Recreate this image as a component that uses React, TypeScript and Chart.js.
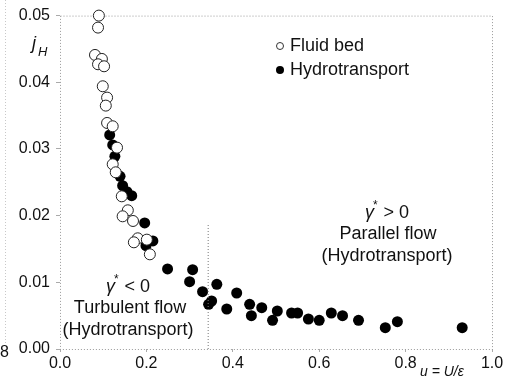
import React, { useEffect, useRef } from "react";
import { Chart, registerables } from "chart.js";

Chart.register(...registerables);

const fluidX = [0.090, 0.088, 0.081, 0.097, 0.088, 0.102, 0.099, 0.109, 0.106, 0.109, 0.122, 0.132, 0.122, 0.129, 0.143, 0.157, 0.145, 0.169, 0.180, 0.171, 0.201, 0.208];
const fluidY = [0.0500, 0.0482, 0.0441, 0.0435, 0.0427, 0.0424, 0.0394, 0.0377, 0.0365, 0.0339, 0.0334, 0.0302, 0.0277, 0.0265, 0.0229, 0.0208, 0.0199, 0.0192, 0.0166, 0.0160, 0.0164, 0.0142];

const hydroX = [0.115, 0.122, 0.127, 0.139, 0.145, 0.155, 0.166, 0.196, 0.215, 0.199, 0.249, 0.307, 0.300, 0.330, 0.363, 0.351, 0.344, 0.409, 0.386, 0.439, 0.443, 0.467, 0.492, 0.503, 0.536, 0.550, 0.575, 0.600, 0.628, 0.654, 0.691, 0.753, 0.781, 0.931];
const hydroY = [0.0321, 0.0306, 0.0289, 0.0259, 0.0245, 0.0236, 0.0230, 0.0189, 0.0162, 0.0155, 0.0120, 0.0119, 0.0101, 0.0086, 0.0097, 0.0072, 0.0067, 0.0084, 0.0060, 0.0067, 0.0050, 0.0062, 0.0043, 0.0057, 0.0054, 0.0054, 0.0045, 0.0043, 0.0054, 0.0050, 0.0043, 0.0032, 0.0041, 0.0032];

const dividerX = [0.343, 0.343];
const dividerY = [0.0, 0.0189];

const xTicks = [0.0, 0.2, 0.4, 0.6, 0.8, 1.0];
const yTicks = [0.0, 0.01, 0.02, 0.03, 0.04, 0.05];

const FONT = "'Liberation Sans', Arial, Helvetica, sans-serif";

function drawGamma(ctx: CanvasRenderingContext2D, cx: number, cy: number, rest: string) {
  ctx.save();
  ctx.fillStyle = "#111";
  ctx.textBaseline = "middle";
  ctx.textAlign = "left";
  ctx.font = `italic 18px ${FONT}`;
  const gW = ctx.measureText("γ").width;
  ctx.font = `12px ${FONT}`;
  const sW = ctx.measureText("*").width;
  ctx.font = `18px ${FONT}`;
  const rW = ctx.measureText(rest).width;
  const total = gW + sW + rW;
  let x = cx - total / 2;
  ctx.font = `italic 18px ${FONT}`;
  ctx.fillText("γ", x, cy);
  x += gW - 1;
  ctx.font = `12px ${FONT}`;
  ctx.fillText("*", x, cy - 7);
  x += sW + 1;
  ctx.font = `18px ${FONT}`;
  ctx.fillText(rest, x, cy);
  ctx.restore();
}

const decorPlugin = {
  id: "decor",
  beforeDatasetsDraw(chart: any) {
    const { ctx, chartArea } = chart;
    ctx.save();
    ctx.strokeStyle = "#9a9a9a";
    ctx.lineWidth = 1;
    ctx.setLineDash([1, 2]);
    ctx.strokeRect(chartArea.left + 0.5, chartArea.top + 0.5, chartArea.right - chartArea.left, chartArea.bottom - chartArea.top);
    ctx.strokeStyle = "#c8c8c8";
    ctx.beginPath();
    ctx.moveTo(5.5, 0);
    ctx.lineTo(5.5, 345);
    ctx.stroke();
    ctx.restore();
  },
  afterDatasetsDraw(chart: any) {
    const { ctx } = chart;
    ctx.save();
    ctx.fillStyle = "#111";
    ctx.textBaseline = "middle";

    // legend
    ctx.beginPath();
    ctx.arc(280, 46, 3.5, 0, Math.PI * 2);
    ctx.fillStyle = "#fff";
    ctx.fill();
    ctx.strokeStyle = "#333";
    ctx.lineWidth = 1;
    ctx.stroke();
    ctx.beginPath();
    ctx.arc(280, 70, 4, 0, Math.PI * 2);
    ctx.fillStyle = "#000";
    ctx.fill();
    ctx.fillStyle = "#111";
    ctx.font = `18px ${FONT}`;
    ctx.textAlign = "left";
    ctx.fillText("Fluid bed", 290, 46);
    ctx.fillText("Hydrotransport", 290, 70);

    // annotations
    ctx.textAlign = "center";
    ctx.fillText("Turbulent flow", 130, 308);
    ctx.fillText("(Hydrotransport)", 128, 330);
    ctx.fillText("Parallel flow", 388, 234);
    ctx.fillText("(Hydrotransport)", 387, 256);
    drawGamma(ctx, 128, 287, " < 0");
    drawGamma(ctx, 387, 213, " > 0");

    // axis titles
    ctx.textAlign = "left";
    ctx.font = `italic 18px ${FONT}`;
    ctx.fillText("j", 32, 44);
    ctx.font = `italic 13px ${FONT}`;
    ctx.fillText("H", 38, 52);
    ctx.font = `italic 14px ${FONT}`;
    ctx.fillText("u = U/ε", 420, 372);
    ctx.font = `16px ${FONT}`;
    ctx.fillText("8", 0, 353);
    ctx.restore();
  },
};

export default function App() {
  const ref = useRef<HTMLCanvasElement | null>(null);
  useEffect(() => {
    if (!ref.current) return;
    const chart = new Chart(ref.current, {
      type: "scatter",
      data: {
        datasets: [
          {
            label: "divider",
            type: "line",
            data: dividerX.map((x, i) => ({ x, y: dividerY[i] })),
            borderColor: "#777",
            borderWidth: 1,
            borderDash: [1, 2],
            pointRadius: 0,
            showLine: true,
            fill: false,
          } as any,
          {
            label: "Fluid bed",
            data: fluidX.map((x, i) => ({ x, y: fluidY[i] })),
            backgroundColor: "#fff",
            borderColor: "#222",
            borderWidth: 1,
            pointRadius: 5.5,
            clip: false,
          } as any,
          {
            label: "Hydrotransport",
            data: hydroX.map((x, i) => ({ x, y: hydroY[i] })),
            backgroundColor: "#000",
            borderColor: "#000",
            borderWidth: 0,
            pointRadius: 5.5,
            clip: false,
          } as any,
        ],
      },
      options: {
        responsive: false,
        animation: false,
        layout: { padding: { top: 8, right: 21, left: 0, bottom: 0 } },
        plugins: { legend: { display: false }, tooltip: { enabled: false } },
        scales: {
          x: {
            type: "linear",
            min: 0,
            max: 1.0,
            afterBuildTicks: (s: any) => {
              s.ticks = xTicks.map((v) => ({ value: v }));
            },
            afterFit: (s: any) => {
              s.height = 34;
            },
            ticks: {
              color: "#111",
              font: { family: FONT, size: 16 },
              padding: 2,
              maxRotation: 0,
              callback: (v: any) => Number(v).toFixed(1),
            },
            grid: { drawOnChartArea: false, drawTicks: true, tickLength: 3, color: "#aaa" },
            border: { display: false },
          },
          y: {
            type: "linear",
            min: 0,
            max: 0.05,
            afterBuildTicks: (s: any) => {
              s.ticks = yTicks.map((v) => ({ value: v }));
            },
            afterFit: (s: any) => {
              s.width = 60;
            },
            ticks: {
              color: "#111",
              font: { family: FONT, size: 16 },
              padding: 6,
              callback: (v: any) => Number(v).toFixed(2),
            },
            grid: { drawOnChartArea: false, drawTicks: true, tickLength: 4, color: "#aaa" },
            border: { display: false },
          },
        },
      },
      plugins: [decorPlugin],
    });
    return () => chart.destroy();
  }, []);
  return (
    <div style={{ position: "fixed", left: 0, top: 0, width: 513, height: 383, background: "#fff" }}>
      <canvas ref={ref} width={513} height={383} style={{ display: "block" }} />
    </div>
  );
}
